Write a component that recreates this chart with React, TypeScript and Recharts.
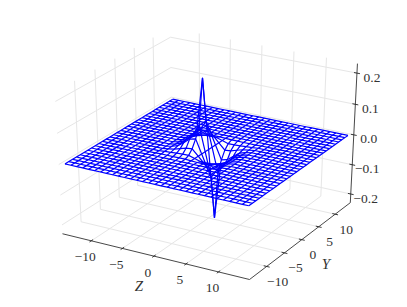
import React from 'react'
import { ScatterChart, Scatter, XAxis, YAxis } from 'recharts'

// wire nodes along both ground axes
const gridNodes = [
  -14.1, -13.16, -12.22, -11.28, -10.34, -9.4, -8.46, -7.52, -6.58, -5.64, -4.7, -3.76, -2.82, -1.88, -0.94, 0,
  0.94, 1.88, 2.82, 3.76, 4.7, 5.64, 6.58, 7.52, 8.46, 9.4, 10.34, 11.28, 12.22, 13.16, 14.1,
]

// surface height around the middle
const centerNodes = [-4.7, -3.76, -2.82, -1.88, -0.94, 0, 0.94, 1.88, 2.82, 3.76, 4.7]
const centerZ = [
  [0.001, 0.001, 0.001, 0.001, 0.001, 0, -0.001, -0.001, -0.001, -0.001, -0.001],
  [0.002, 0.003, 0.005, 0.006, 0.006, 0, -0.006, -0.006, -0.005, -0.003, -0.002],
  [0.003, 0.006, 0.012, 0.018, 0.02, 0, -0.02, -0.018, -0.012, -0.006, -0.003],
  [0.004, 0.01, 0.024, 0.04, 0.045, 0, -0.045, -0.04, -0.024, -0.01, -0.004],
  [0.004, 0.012, 0.03, 0.05, 0.08, 0, -0.08, -0.05, -0.03, -0.012, -0.004],
  [0.004, 0.012, 0.03, 0.05, 0.225, 0, -0.225, -0.05, -0.03, -0.012, -0.004],
  [0.004, 0.012, 0.03, 0.05, 0.08, 0, -0.08, -0.05, -0.03, -0.012, -0.004],
  [0.004, 0.01, 0.024, 0.04, 0.045, 0, -0.045, -0.04, -0.024, -0.01, -0.004],
  [0.003, 0.006, 0.012, 0.018, 0.02, 0, -0.02, -0.018, -0.012, -0.006, -0.003],
  [0.002, 0.003, 0.005, 0.006, 0.006, 0, -0.006, -0.006, -0.005, -0.003, -0.002],
  [0.001, 0.001, 0.001, 0.001, 0.001, 0, -0.001, -0.001, -0.001, -0.001, -0.001],
]

const groundTicks = [-10, -5, 0, 5, 10]
const groundTickLabels = ['\u221210', '\u22125', '0', '5', '10']
const heightTicks = [-0.2, -0.1, 0, 0.1, 0.2]
const heightTickLabels = ['\u22120.2', '\u22120.1', '0.0', '0.1', '0.2']

const groundLim = 14.7
const heightLim = 0.23

// mplot3d style camera: elev 30, azim -60, dist 10
const DIST = 10
const EL = (30 * Math.PI) / 180
const AZ = (-60 * Math.PI) / 180
const n = [Math.cos(AZ) * Math.cos(EL), Math.sin(AZ) * Math.cos(EL), Math.sin(EL)]
const nLen = Math.hypot(n[0], n[1])
const u = [-n[1] / nLen, n[0] / nLen, 0]
const v = [n[1] * u[2] - n[2] * u[1], n[2] * u[0] - n[0] * u[2], n[0] * u[1] - n[1] * u[0]]

const dot = (a: number[], b: number[]) => a[0] * b[0] + a[1] * b[1] + a[2] * b[2]

function project(x: number, y: number, z: number, label?: string) {
  const p = [
    (x + groundLim) / (2 * groundLim) - 0.5,
    (y + groundLim) / (2 * groundLim) - 0.5,
    (z + heightLim) / (2 * heightLim) - 0.5,
  ]
  const w = DIST - dot(n, p)
  return { px: dot(u, p) / w, py: dot(v, p) / w, label }
}

function heightAt(x: number, y: number) {
  const col = centerNodes.indexOf(x)
  const row = centerNodes.indexOf(y)
  return col < 0 || row < 0 ? 0 : centerZ[row][col]
}

const wireRows = gridNodes.map((y) => gridNodes.map((x) => project(x, y, heightAt(x, y))))
const wireCols = gridNodes.map((x) => gridNodes.map((y) => project(x, y, heightAt(x, y))))

const L = groundLim
const H = heightLim

const gridLines = [
  ...groundTicks.map((t) => [project(t, -L, -H), project(t, L, -H), project(t, L, H)]),
  ...groundTicks.map((t) => [project(L, t, -H), project(-L, t, -H), project(-L, t, H)]),
  ...heightTicks.map((t) => [project(-L, -L, t), project(-L, L, t), project(L, L, t)]),
]

const axisLines = [
  [project(-L, -L, -H), project(L, -L, -H), project(L, L, -H), project(L, L, H)],
]

const tickMarks = [
  ...groundTicks.map((t) => [project(t, -L - 0.45, -H), project(t, -L + 0.45, -H)]),
  ...groundTicks.map((t) => [project(L - 0.45, t, -H), project(L + 0.45, t, -H)]),
  ...heightTicks.map((t) => [project(L - 0.45, L, t), project(L + 0.45, L, t)]),
]

const xLabels = groundTicks.map((t, i) => project(t, -L, -H, groundTickLabels[i]))
const yLabels = groundTicks.map((t, i) => project(L, t, -H, groundTickLabels[i]))
const zLabels = heightTicks.map((t, i) => project(L, L, t, heightTickLabels[i]))
const xTitle = [project(0, -L, -H, 'Z')]
const yTitle = [project(L, 0, -H, 'Y')]

const NoDot = () => <g />

const textAt = (dx: number, dy: number, italic = false) => (props: any) => (
  <text
    x={props.cx + dx}
    y={props.cy + dy}
    textAnchor="middle"
    dominantBaseline="central"
    fontFamily="'Liberation Serif', serif"
    fontStyle={italic ? 'italic' : 'normal'}
    fontSize={italic ? 15 : 13.5}
    fill="#333333"
  >
    {props.payload.label}
  </text>
)

function polyline(data: any[], key: string, stroke: string, width: number) {
  return (
    <Scatter
      key={key}
      data={data}
      fill="none"
      shape={NoDot}
      line={{ stroke, strokeWidth: width, fill: 'none' }}
      isAnimationActive={false}
    />
  )
}

function labels(data: any[], key: string, dx: number, dy: number, italic = false) {
  return <Scatter key={key} data={data} shape={textAt(dx, dy, italic)} isAnimationActive={false} />
}

export default function App() {
  return (
    <div style={{ position: 'absolute', left: 0, top: 0, width: 407, height: 307, background: '#fff' }}>
      <ScatterChart width={407} height={307} margin={{ top: 0, right: 0, bottom: 0, left: 0 }}>
        <XAxis type="number" dataKey="px" domain={[-0.09662, 0.09188]} hide allowDataOverflow />
        <YAxis type="number" dataKey="py" domain={[-0.09714, 0.09216]} hide allowDataOverflow />
        {gridLines.map((d, i) => polyline(d, `grid${i}`, '#e6e6e6', 1))}
        {axisLines.map((d, i) => polyline(d, `axis${i}`, '#333333', 0.9))}
        {tickMarks.map((d, i) => polyline(d, `tick${i}`, '#222222', 0.9))}
        {wireRows.map((d, i) => polyline(d, `row${i}`, '#0000ff', 1.2))}
        {wireCols.map((d, i) => polyline(d, `col${i}`, '#0000ff', 1.2))}
        {labels(xLabels, 'xl', -6, 16)}
        {labels(yLabels, 'yl', 11, 15)}
        {labels(zLabels, 'zl', 15, 4)}
        {labels(xTitle, 'xt', -15, 30, true)}
        {labels(yTitle, 'yt', 24, 24, true)}
      </ScatterChart>
    </div>
  )
}
